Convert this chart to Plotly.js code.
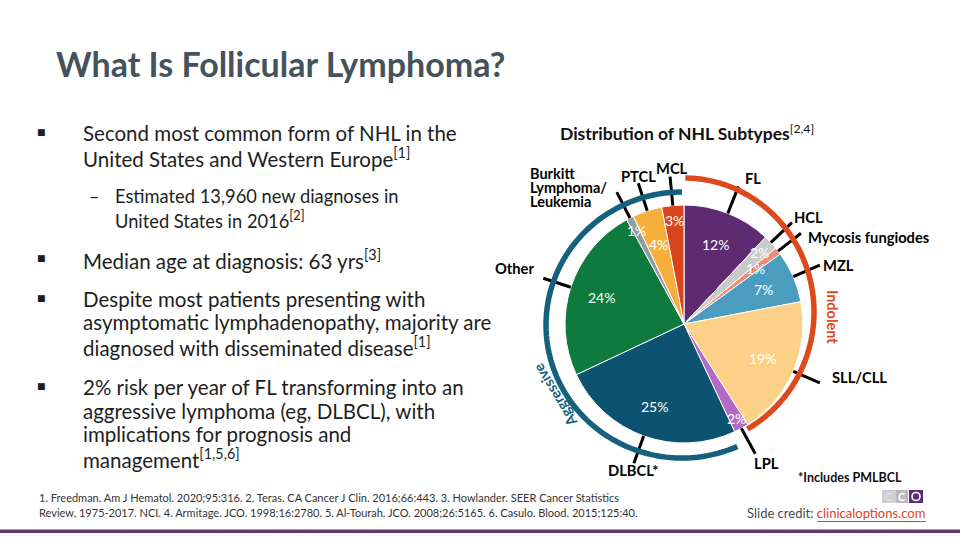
<!DOCTYPE html>
<html><head><meta charset="utf-8">
<script src="https://cdn.plot.ly/plotly-3.0.1.min.js"></script>
<style>html,body{margin:0;padding:0;background:#fff}#chart{width:960px;height:540px}</style>
</head><body><div id="chart"></div>
<script>
// ---------- data ----------
const subtypes = ['FL','HCL','Mycosis fungiodes','MZL','SLL/CLL','LPL','DLBCL*','Other','Burkitt Lymphoma/ Leukemia','PTCL','MCL'];
const shares   = [12, 2, 1, 7, 19, 2, 25, 24, 1, 4, 3];
const groups   = ['Indolent','Indolent','Indolent','Indolent','Indolent','Indolent','Aggressive','Aggressive','Aggressive','Aggressive','Aggressive'];
const chartTitle = 'Distribution of NHL Subtypes';
const chartTitleRef = '[2,4]';
const slideTitle = 'What Is Follicular Lymphoma?';
const bulletLines = [
  ['Second most common form of NHL in the', 'United States and Western Europe<sup>[1]</sup>'],
  ['Median age at diagnosis: 63 yrs<sup>[3]</sup>'],
  ['Despite most patients presenting with', 'asymptomatic lymphadenopathy, majority are', 'diagnosed with disseminated disease<sup>[1]</sup>'],
  ['2% risk per year of FL transforming into an', 'aggressive lymphoma (eg, DLBCL), with', 'implications for prognosis and', 'management<sup>[1,5,6]</sup>']
];
const subBulletLines = ['Estimated 13,960 new diagnoses in', 'United States in 2016<sup>[2]</sup>'];
const footnoteLines = [
  '1. Freedman. Am J Hematol. 2020;95:316. 2. Teras. CA Cancer J Clin. 2016;66:443. 3. Howlander. SEER Cancer Statistics',
  'Review, 1975-2017. NCI. 4. Armitage. JCO. 1998;16:2780. 5. Al-Tourah. JCO. 2008;26:5165. 6. Casulo. Blood. 2015;125:40.'
];
const footnoteStar = '*Includes PMLBCL';
const creditLabel = 'Slide credit: ';
const creditLink = 'clinicaloptions.com';

// ---------- styles / layout geometry ----------
const W = 960, H = 540;
const FONT = 'Lato, "Open Sans", sans-serif';
const sliceColors = ['#5e2b72','#c9c9c9','#e9907a','#4b9dbf','#fcd187','#b26bc5','#0d5270','#0e7a3d','#8e9da2','#f6ae3c','#d8451c'];
const groupColors = {Indolent:'#dc4a1c', Aggressive:'#15607d'};
const CX = 684, CY = 324, R = 119;
const pctRadius = [86, 104, 90, 87, 86, 108, 88, 87, 105, 84, 104];
const leaderOuter = 148;
// label anchor positions (px) for each subtype label
const labelPos = [
  {x:753, y:178, a:'center'}, {x:808, y:217, a:'center'}, {x:806, y:237, a:'left'},
  {x:821, y:265, a:'left'}, {x:830, y:377, a:'left'}, {x:766, y:463, a:'center'},
  {x:633, y:470, a:'center'}, {x:536, y:268, a:'right'}, {x:528, y:174, a:'left'},
  {x:638, y:176, a:'center'}, {x:672, y:168, a:'center'}
];

const px = x => x / W, py = y => 1 - y / H;
const rad = d => d * Math.PI / 180;
const polar = (r, deg) => [CX + r * Math.sin(rad(deg)), CY - r * Math.cos(rad(deg))];

// slice angles from data (clockwise from 12 o'clock)
const total = shares.reduce((a, b) => a + b, 0);
const starts = [], ends = [], mids = [];
let cum = 0;
shares.forEach(v => { starts.push(cum / total * 360); cum += v; ends.push(cum / total * 360); mids.push((starts[starts.length-1] + ends[ends.length-1]) / 2); });
const indolentSpan = shares.reduce((s, v, i) => s + (groups[i] === 'Indolent' ? v : 0), 0) / total * 360;

const pie = {
  type: 'pie', labels: subtypes, values: shares, sort: false, direction: 'clockwise', rotation: 0,
  marker: {colors: sliceColors, line: {color: '#ffffff', width: 1}},
  textinfo: 'none', hoverinfo: 'label+percent', showlegend: false,
  domain: {x: [px(CX - R), px(CX + R)], y: [py(CY + R), py(CY - R)]}
};

function T(x, y, text, o) {
  o = o || {};
  return {
    xref: 'paper', yref: 'paper', x: px(x), y: py(y), text: text, showarrow: false,
    xanchor: o.xa || 'left', yanchor: o.ya || 'middle', textangle: o.angle || 0,
    font: {family: o.family || FONT, size: o.size || 14, color: o.color || '#000', weight: o.weight || 'normal'}
  };
}

const ann = [];
const shapes = [];

// slide title
ann.push(T(54, 63, slideTitle, {size: 34, weight: 'bold', color: '#44525c'}));

// bullets
const BODY = 20.5, BODYC = '#1e1e1e';
const bulletY = [[133, 157], [259], [299, 322, 346], [387, 411, 434, 458]];
bulletLines.forEach((lines, i) => {
  ann.push(T(35, bulletY[i][0] - 1, '■', {size: 9, family: 'DejaVu Sans', color: BODYC}));
  lines.forEach((ln, j) => ann.push(T(81, bulletY[i][j], ln, {size: BODY, color: BODYC})));
});
ann.push(T(87, 196, '–', {size: 18, color: BODYC}));
subBulletLines.forEach((ln, j) => ann.push(T(113, [196, 219][j], ln, {size: 18.3, color: BODYC})));

// chart title
ann.push(T(558, 133, '<b>' + chartTitle + '</b><sup>' + chartTitleRef + '</sup>', {size: 17.5, color: '#111'}));

// percent labels inside pie
shares.forEach((v, i) => {
  const p = polar(pctRadius[i], mids[i]);
  ann.push(T(p[0], p[1], v + '%', {xa: 'center', size: 14, color: '#ffffff'}));
});

// leader lines + subtype labels
shares.forEach((v, i) => {
  const a = polar(R, mids[i]), b = polar(leaderOuter, mids[i]);
  shapes.push({type: 'line', xref: 'paper', yref: 'paper', x0: px(a[0]), y0: py(a[1]), x1: px(b[0]), y1: py(b[1]), line: {color: '#000', width: 3}});
  const lp = labelPos[i];
  if (subtypes[i].indexOf('Burkitt') === 0) {
    ['Burkitt', 'Lymphoma/', 'Leukemia'].forEach((w, k) => ann.push(T(lp.x, lp.y + k * 14, '<b>' + w + '</b>', {size: 14.5})));
  } else {
    ann.push(T(lp.x, lp.y, '<b>' + subtypes[i] + '</b>', {xa: lp.a, size: 14.7}));
  }
});

// group arcs
function arcPath(cx, cy, rx, ry, a0, a1) {
  let s = '';
  const n = 140;
  for (let i = 0; i <= n; i++) {
    const a = rad(a0 + (a1 - a0) * i / n);
    const x = cx + rx * Math.sin(a), y = cy - ry * Math.cos(a);
    s += (i ? 'L' : 'M') + px(x).toFixed(5) + ',' + py(y).toFixed(5);
  }
  return s;
}
shapes.push({type: 'path', xref: 'paper', yref: 'paper', path: arcPath(684, 312, 130, 134, 0.6, indolentSpan - 4), line: {color: groupColors.Indolent, width: 5.5}});
shapes.push({type: 'path', xref: 'paper', yref: 'paper', path: arcPath(682, 325, 136, 133, indolentSpan + 1.2, 360), line: {color: groupColors.Aggressive, width: 5.5}});
ann.push(T(833, 317, '<b>Indolent</b>', {xa: 'center', angle: 90, size: 14.5, color: groupColors.Indolent}));
ann.push(T(555, 396, '<b>Aggressive</b>', {xa: 'center', angle: -121, size: 14.5, color: groupColors.Aggressive}));

// footnotes
footnoteLines.forEach((ln, j) => ann.push(T(37, [497, 512][j], ln, {size: 11, color: '#333'})));
ann.push(T(796, 477, '<b>' + footnoteStar + '</b>', {size: 12.5, color: '#111'}));
ann.push(T(745, 513, creditLabel + '<span style="color:#d9461f">' + creditLink + '</span>', {size: 13, color: '#4a4a4a'}));
shapes.push({type: 'line', xref: 'paper', yref: 'paper', x0: px(817), x1: px(926), y0: py(521.5), y1: py(521.5), line: {color: '#d9461f', width: 1.2}});

// logo
shapes.push({type: 'rect', xref: 'paper', yref: 'paper', x0: px(882), x1: px(896), y0: py(503), y1: py(490), fillcolor: '#cfcfd4', line: {width: 0}});
shapes.push({type: 'rect', xref: 'paper', yref: 'paper', x0: px(896), x1: px(908), y0: py(503), y1: py(490), fillcolor: '#b9b9c1', line: {width: 0}});
shapes.push({type: 'rect', xref: 'paper', yref: 'paper', x0: px(909), x1: px(923), y0: py(503), y1: py(490), fillcolor: '#5f2d74', line: {width: 0}});
shapes.push({type: 'circle', xref: 'paper', yref: 'paper', x0: px(912), x1: px(920), y0: py(500.5), y1: py(492.5), line: {color: '#ffffff', width: 1.6}});
ann.push(T(902, 496.5, '<b>C</b>', {xa: 'center', size: 11, color: '#ffffff'}));
ann.push(T(889, 496.5, 'C', {xa: 'center', size: 11, color: '#e4e4e8'}));

// bottom rule
shapes.push({type: 'rect', xref: 'paper', yref: 'paper', x0: 0, x1: 1, y0: py(533), y1: py(529.5), fillcolor: '#5c3a6d', line: {width: 0}});

Plotly.newPlot('chart', [pie], {
  width: W, height: H, margin: {l: 0, r: 0, t: 0, b: 0},
  paper_bgcolor: '#ffffff', plot_bgcolor: '#ffffff', showlegend: false,
  annotations: ann, shapes: shapes
}, {staticPlot: true, displayModeBar: false});
</script>
</body></html>
